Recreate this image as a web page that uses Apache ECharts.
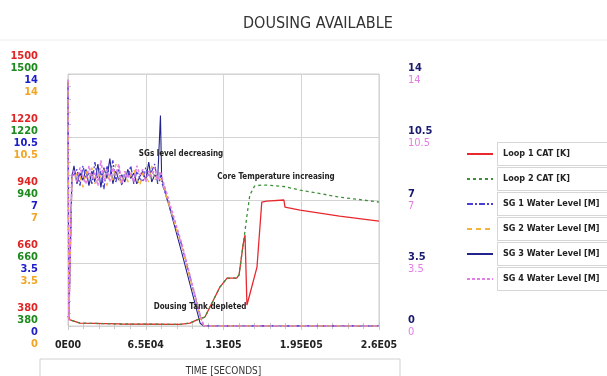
<!DOCTYPE html>
<html>
<head>
<meta charset="utf-8">
<script src="https://cdn.jsdelivr.net/npm/echarts@6/dist/echarts.min.js"></script>
<style>
  html, body { margin: 0; padding: 0; background: #fff; }
  #chart { width: 607px; height: 376px; }
</style>
</head>
<body>
<div id="chart"></div>
<script>
// tick labels
const xTicks = ['0E00', '6.5E04', '1.3E05', '1.95E05', '2.6E05']
const tempTicks = ['380', '660', '940', '1220', '1500']
const levelTicks = ['0', '3.5', '7', '10.5', '14']

// loop temperatures [K]
const tempTime = [0, 1700, 10000, 43500, 93600, 102000, 107800, 114500, 127000, 133000, 141000, 143000, 146500,
  148000, 149600, 152000, 156000, 158000, 162000, 166000, 180500, 181400, 194000, 227000, 260000]
const loop1 = [424, 407, 393, 389, 387, 393, 407, 420, 553, 593, 593, 607, 745,
  784, 473, 521, 602, 642, 931, 935, 940, 908, 895, 868, 846]
const loop2 = [424, 407, 393, 389, 387, 393, 407, 420, 553, 593, 593, 607, 745,
  804, 870, 962, 1002, 1004, 1006, 1006, 1000, 999, 984, 953, 931]

// steam generator water levels [M]
const sgTime = [0, 700, 3300,
  5000, 7500, 10000, 12500, 15000, 17500, 20000, 22500, 25000, 27500,
  30000, 32500, 35000, 37500, 40000, 42500, 45000, 47500, 50000, 52500,
  55000, 57500, 60000, 62500, 65000, 67500, 70000, 72500, 75000,
  76500, 77300, 78300, 95000, 110500, 113500, 260000]
const sg1 = [13.6, 0.3, 8.4,
  8.4, 8.7, 7.8, 8.9, 8.2, 8.5, 7.9, 9.1, 8.1, 8.6,
  7.6, 8.9, 8.3, 9.2, 8.0, 8.7, 7.8, 8.5, 8.3, 8.9,
  7.9, 8.6, 8.2, 8.0, 8.8, 8.3, 8.6, 9.0, 7.9,
  8.1, 8.4, 8.0, 4.5, 0.55, 0.0, 0.0]
const sg2 = [13.6, 0.3, 8.2,
  8.1, 8.5, 8.3, 7.7, 8.6, 8.2, 8.8, 7.9, 8.4, 8.3,
  8.7, 7.8, 8.5, 8.1, 9.0, 8.2, 7.9, 8.6, 8.0, 8.4,
  8.7, 8.2, 7.8, 8.5, 8.3, 8.0, 8.9, 8.1, 8.4,
  8.2, 8.3, 8.1, 4.4, 0.5, 0.0, 0.0]
const sg3 = [13.5, 0.4, 8.3,
  8.9, 7.9, 8.5, 8.1, 8.7, 7.8, 8.6, 8.0, 9.0, 7.7,
  8.8, 8.2, 9.3, 7.9, 8.6, 8.1, 8.4, 8.0, 8.7, 8.2,
  8.5, 7.9, 8.3, 8.6, 8.1, 9.1, 8.0, 8.4, 8.2,
  8.3, 11.7, 8.2, 4.1, 0.15, 0.0, 0.0]
const sg4 = [13.7, 0.3, 8.5,
  8.6, 8.0, 8.8, 8.3, 7.9, 8.9, 8.2, 8.5, 7.8, 9.2,
  8.1, 8.7, 8.0, 8.8, 8.4, 9.0, 7.9, 8.6, 8.2, 8.5,
  8.0, 8.9, 8.4, 8.7, 8.0, 8.6, 8.3, 8.8, 8.1,
  8.4, 8.6, 8.3, 4.6, 0.6, 0.0, 0.0]

// annotations (time, level)
const notes = [
  { name: 'SGs level decreasing', coord: [94500, 9.56] },
  { name: 'Core Temperature increasing', coord: [173900, 8.28] },
  { name: 'Dousing Tank depleted', coord: [110400, 1.06] }
]

const FONT = "'DejaVu Sans Condensed', 'Liberation Sans', sans-serif"

const pairs = (xs, ys) => xs.map((x, i) => [x, ys[i]])

const myChart = echarts.init(document.getElementById('chart'))

function lineSeries(name, data, yIdx, color, type, width) {
  return {
    name: name,
    type: 'line',
    yAxisIndex: yIdx,
    data: data,
    symbol: 'none',
    showSymbol: false,
    animation: false,
    lineStyle: { color: color, type: type, width: width },
    itemStyle: { color: color }
  }
}

const sgSeries3 = lineSeries('SG 3 Water Level [M]', pairs(sgTime, sg3), 0, '#23238c', 'solid', 1.1)
sgSeries3.markPoint = {
  symbol: 'circle',
  symbolSize: 0,
  silent: true,
  label: {
    show: true,
    position: 'inside',
    formatter: '{b}',
    fontFamily: FONT,
    fontSize: 8,
    fontWeight: 'bold',
    color: '#222'
  },
  data: notes
}

myChart.setOption({
  textStyle: { fontFamily: FONT },
  title: {
    text: 'DOUSING AVAILABLE',
    left: 238,
    top: 11,
    textStyle: { fontFamily: FONT, fontSize: 16, fontWeight: 'normal', color: '#333' }
  },
  graphic: [
    { type: 'line', shape: { x1: 0, y1: 40, x2: 607, y2: 40 }, style: { stroke: '#eeeeee', lineWidth: 1 } },
    { type: 'rect', shape: { x: 40, y: 359, width: 360, height: 22 }, style: { fill: 'none', stroke: '#d0d0d0', lineWidth: 1 } }
  ],
  legend: {
    orient: 'vertical',
    left: 466,
    top: 142,
    padding: 0,
    itemWidth: 26,
    itemHeight: 10,
    itemGap: 1,
    itemStyle: { color: 'rgba(0,0,0,0)', borderWidth: 0 },
    data: ['Loop 1 CAT [K]', 'Loop 2 CAT [K]', 'SG 1 Water Level [M]', 'SG 2 Water Level [M]', 'SG 3 Water Level [M]', 'SG 4 Water Level [M]'],
    textStyle: {
      fontFamily: FONT,
      fontSize: 9,
      fontWeight: 'bold',
      color: '#222',
      width: 100,
      lineHeight: 12,
      padding: [5, 5, 5, 5],
      borderColor: '#d6d6d6',
      borderWidth: 1,
      backgroundColor: '#fff'
    }
  },
  grid: {
    left: 68,
    right: 228,
    top: 74,
    bottom: 50,
    outerBoundsMode: 'none',
    containLabel: false,
    show: true,
    borderColor: '#cfcfcf',
    borderWidth: 1
  },
  xAxis: [
    {
      type: 'value',
      min: 0,
      max: 260000,
      interval: 65000,
      name: 'TIME [SECONDS]',
      nameLocation: 'middle',
      nameGap: 40,
      nameTextStyle: { fontFamily: FONT, fontSize: 10, color: '#333' },
      axisLine: { show: false },
      axisTick: { show: true, inside: true, length: 4, lineStyle: { color: '#c8c8c8' } },
      minorTick: { show: true, splitNumber: 5, length: 3, lineStyle: { color: '#c8c8c8' } },
      splitLine: { show: true, lineStyle: { color: '#d4d4d4' } },
      axisLabel: {
        margin: 14,
        fontFamily: FONT,
        fontSize: 10.5,
        fontWeight: 'bold',
        color: '#222',
        formatter: (v, i) => xTicks[i]
      }
    },
    {
      type: 'value',
      position: 'top',
      min: 0,
      max: 260000,
      interval: 65000,
      axisLine: { show: false },
      axisLabel: { show: false },
      splitLine: { show: false },
      axisTick: { show: true, inside: true, length: 4, lineStyle: { color: '#c8c8c8' } },
      minorTick: { show: true, splitNumber: 5, length: 3, lineStyle: { color: '#c8c8c8' } }
    }
  ],
  yAxis: [
    {
      type: 'value',
      position: 'left',
      min: 0,
      max: 14,
      interval: 3.5,
      axisLine: { show: false },
      axisTick: { show: true, inside: true, length: 3, lineStyle: { color: '#c8c8c8' } },
      minorTick: { show: true, splitNumber: 5, length: 3, lineStyle: { color: '#c8c8c8' } },
      splitLine: { show: true, lineStyle: { color: '#d4d4d4' } },
      axisLabel: {
        margin: 30,
        align: 'right',
        fontFamily: FONT,
        formatter: (v, i) => '{r|' + tempTicks[i] + '}\n{g|' + tempTicks[i] + '}\n{b|' + levelTicks[i] + '}\n{o|' + levelTicks[i] + '}',
        rich: {
          r: { color: '#e02424', fontSize: 11, fontWeight: 'bold', lineHeight: 12, fontFamily: FONT, align: 'right' },
          g: { color: '#1c8a1c', fontSize: 11, fontWeight: 'bold', lineHeight: 12, fontFamily: FONT, align: 'right' },
          b: { color: '#1c1cc8', fontSize: 11, fontWeight: 'bold', lineHeight: 12, fontFamily: FONT, align: 'right' },
          o: { color: '#f2a524', fontSize: 11, fontWeight: 'bold', lineHeight: 12, fontFamily: FONT, align: 'right' }
        }
      }
    },
    {
      type: 'value',
      position: 'left',
      min: 380,
      max: 1500,
      show: false
    },
    {
      type: 'value',
      position: 'right',
      min: 0,
      max: 14,
      interval: 3.5,
      axisLine: { show: false },
      axisTick: { show: false },
      splitLine: { show: false },
      axisLabel: {
        margin: 29,
        align: 'left',
        fontFamily: FONT,
        formatter: (v, i) => '{n|' + levelTicks[i] + '}\n{p|' + levelTicks[i] + '}',
        rich: {
          n: { color: '#1a1a6e', fontSize: 11, fontWeight: 'bold', lineHeight: 12, fontFamily: FONT },
          p: { color: '#e27ee6', fontSize: 11, lineHeight: 12, fontFamily: FONT }
        }
      }
    }
  ],
  series: [
    sgSeries3,
    lineSeries('Loop 1 CAT [K]', pairs(tempTime, loop1), 1, '#e8282e', 'solid', 1.3),
    lineSeries('Loop 2 CAT [K]', pairs(tempTime, loop2), 1, '#3f8f3a', [3, 3], 1.3),
    lineSeries('SG 1 Water Level [M]', pairs(sgTime, sg1), 0, '#4b3fd6', [6, 2, 2, 2], 1.3),
    lineSeries('SG 2 Water Level [M]', pairs(sgTime, sg2), 0, '#f2b43a', [5, 4], 1.3),
    lineSeries('SG 4 Water Level [M]', pairs(sgTime, sg4), 0, '#e27ee6', [3, 2], 1.6)
  ]
})
</script>
</body>
</html>
